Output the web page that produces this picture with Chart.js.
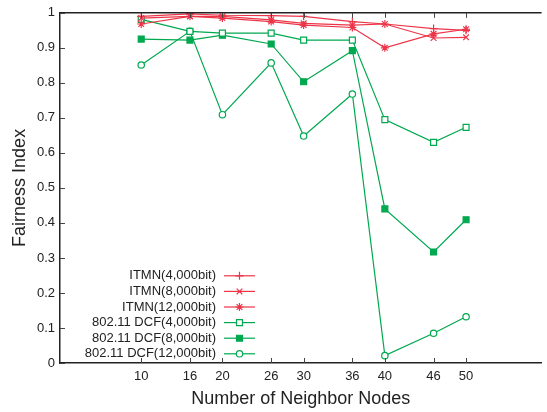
<!DOCTYPE html>
<html>
<head>
<meta charset="utf-8">
<script src="https://cdn.jsdelivr.net/npm/chart.js@4.4.1/dist/chart.umd.min.js"></script>
<style>
  html, body { margin: 0; padding: 0; background: #fff; }
  #wrap { width: 547px; height: 412px; position: relative; }
</style>
</head>
<body>
<div id="wrap"><canvas id="fairness"></canvas></div>
<script>
const nodes = [10, 16, 20, 26, 30, 36, 40, 46, 50];
const yTicks = [0, 0.1, 0.2, 0.3, 0.4, 0.5, 0.6, 0.7, 0.8, 0.9, 1];

const itmn4000 = [0.99, 0.997, 0.993, 0.992, 0.99, 0.975, 0.968, 0.955, 0.95];
const itmn8000 = [0.985, 0.99, 0.99, 0.98, 0.97, 0.965, 0.968, 0.928, 0.93];
const itmn12000 = [0.968, 0.99, 0.985, 0.975, 0.965, 0.958, 0.90, 0.94, 0.953];
const dcf4000 = [0.981, 0.947, 0.942, 0.942, 0.922, 0.922, 0.695, 0.63, 0.673];
const dcf8000 = [0.925, 0.922, 0.936, 0.911, 0.803, 0.892, 0.44, 0.317, 0.409];
const dcf12000 = [0.851, 0.947, 0.709, 0.857, 0.648, 0.768, 0.021, 0.085, 0.132];

const RED = "#ec3548";
const GREEN = "#00a84f";
const FONT = "'Liberation Sans', Arial, sans-serif";

function series(label, values, color, style, fill, radius) {
  return {
    label: label,
    data: values.map((v, i) => ({ x: nodes[i], y: v })),
    borderColor: color,
    backgroundColor: fill,
    borderWidth: 1.2,
    pointStyle: style,
    pointRadius: radius,
    pointBorderWidth: 1.2,
    pointBackgroundColor: fill,
    pointBorderColor: color,
    tension: 0,
  };
}

// inward ticks, top frame line and the legend in the lower left
const framePlugin = {
  id: "frame",
  afterDraw(chart) {
    const c = chart.ctx;
    const a = chart.chartArea;
    const xs = chart.scales.x;
    const ys = chart.scales.y;
    c.save();
    c.strokeStyle = "#222";
    c.lineWidth = 1.5;
    c.beginPath();
    c.moveTo(a.left, a.top);
    c.lineTo(a.right, a.top);
    c.stroke();
    c.lineWidth = 1;
    c.strokeStyle = "#444";
    c.beginPath();
    nodes.forEach((n) => {
      const px = Math.round(xs.getPixelForValue(n)) + 0.5;
      c.moveTo(px, a.bottom);
      c.lineTo(px, a.bottom - 5);
      c.moveTo(px, a.top);
      c.lineTo(px, a.top + 5);
    });
    yTicks.forEach((t) => {
      const py = Math.round(ys.getPixelForValue(t)) + 0.5;
      c.moveTo(a.left, py);
      c.lineTo(a.left + 5, py);
    });
    c.stroke();

    // legend
    const textRight = a.left + 156;
    const lineStart = a.left + 164;
    const lineEnd = a.left + 195;
    const rowTop = a.top + 263;
    const rowGap = 15.6;
    c.font = "13px " + FONT;
    c.textAlign = "right";
    c.textBaseline = "middle";
    chart.data.datasets.forEach((ds, i) => {
      const y = rowTop + i * rowGap;
      c.fillStyle = "#222";
      c.fillText(ds.label, textRight, y);
      c.strokeStyle = ds.borderColor;
      c.lineWidth = 1.2;
      c.beginPath();
      c.moveTo(lineStart, y);
      c.lineTo(lineEnd, y);
      c.stroke();
      c.fillStyle = ds.pointBackgroundColor;
      Chart.helpers.drawPoint(c, {
        pointStyle: ds.pointStyle,
        radius: ds.pointRadius,
        borderWidth: 1.2,
        rotation: 0,
      }, (lineStart + lineEnd) / 2, y);
    });
    c.restore();
  },
};

new Chart(document.getElementById("fairness"), {
  type: "line",
  data: {
    datasets: [
      series("ITMN(4,000bit)", itmn4000, RED, "cross", RED, 4),
      series("ITMN(8,000bit)", itmn8000, RED, "crossRot", RED, 4),
      series("ITMN(12,000bit)", itmn12000, RED, "star", RED, 4),
      series("802.11 DCF(4,000bit)", dcf4000, GREEN, "rect", "#fff", 4.2),
      series("802.11 DCF(8,000bit)", dcf8000, GREEN, "rect", GREEN, 4.2),
      series("802.11 DCF(12,000bit)", dcf12000, GREEN, "circle", "#fff", 3.2),
    ],
  },
  options: {
    responsive: true,
    maintainAspectRatio: false,
    animation: false,
    layout: { padding: { top: 12, right: 1, left: 0, bottom: 0 } },
    plugins: {
      legend: { display: false },
      tooltip: { enabled: false },
    },
    scales: {
      x: {
        type: "linear",
        min: 0,
        max: 59.3,
        afterBuildTicks(scale) {
          scale.ticks = nodes.map((v) => ({ value: v }));
        },
        afterFit(scale) {
          scale.height = 49;
        },
        grid: { display: false, drawTicks: false },
        border: { display: true, color: "#222", width: 1.5 },
        ticks: {
          color: "#222",
          font: { family: FONT, size: 13 },
          padding: 6,
          maxRotation: 0,
          autoSkip: false,
        },
        title: {
          display: true,
          text: "Number of Neighbor Nodes",
          color: "#222",
          font: { family: FONT, size: 18 },
          padding: { top: 4, bottom: 2 },
        },
      },
      y: {
        min: 0,
        max: 1,
        afterBuildTicks(scale) {
          scale.ticks = yTicks.map((v) => ({ value: v }));
        },
        afterFit(scale) {
          scale.width = 60;
        },
        grid: { display: false, drawTicks: false },
        border: { display: true, color: "#222", width: 1.5 },
        ticks: {
          color: "#222",
          font: { family: FONT, size: 13 },
          padding: 5,
          callback: (v) => String(Math.round(v * 10) / 10),
        },
        title: {
          display: true,
          text: "Fairness Index",
          color: "#222",
          font: { family: FONT, size: 18 },
          padding: { top: 9, bottom: 4 },
        },
      },
    },
  },
  plugins: [framePlugin],
});
</script>
</body>
</html>
